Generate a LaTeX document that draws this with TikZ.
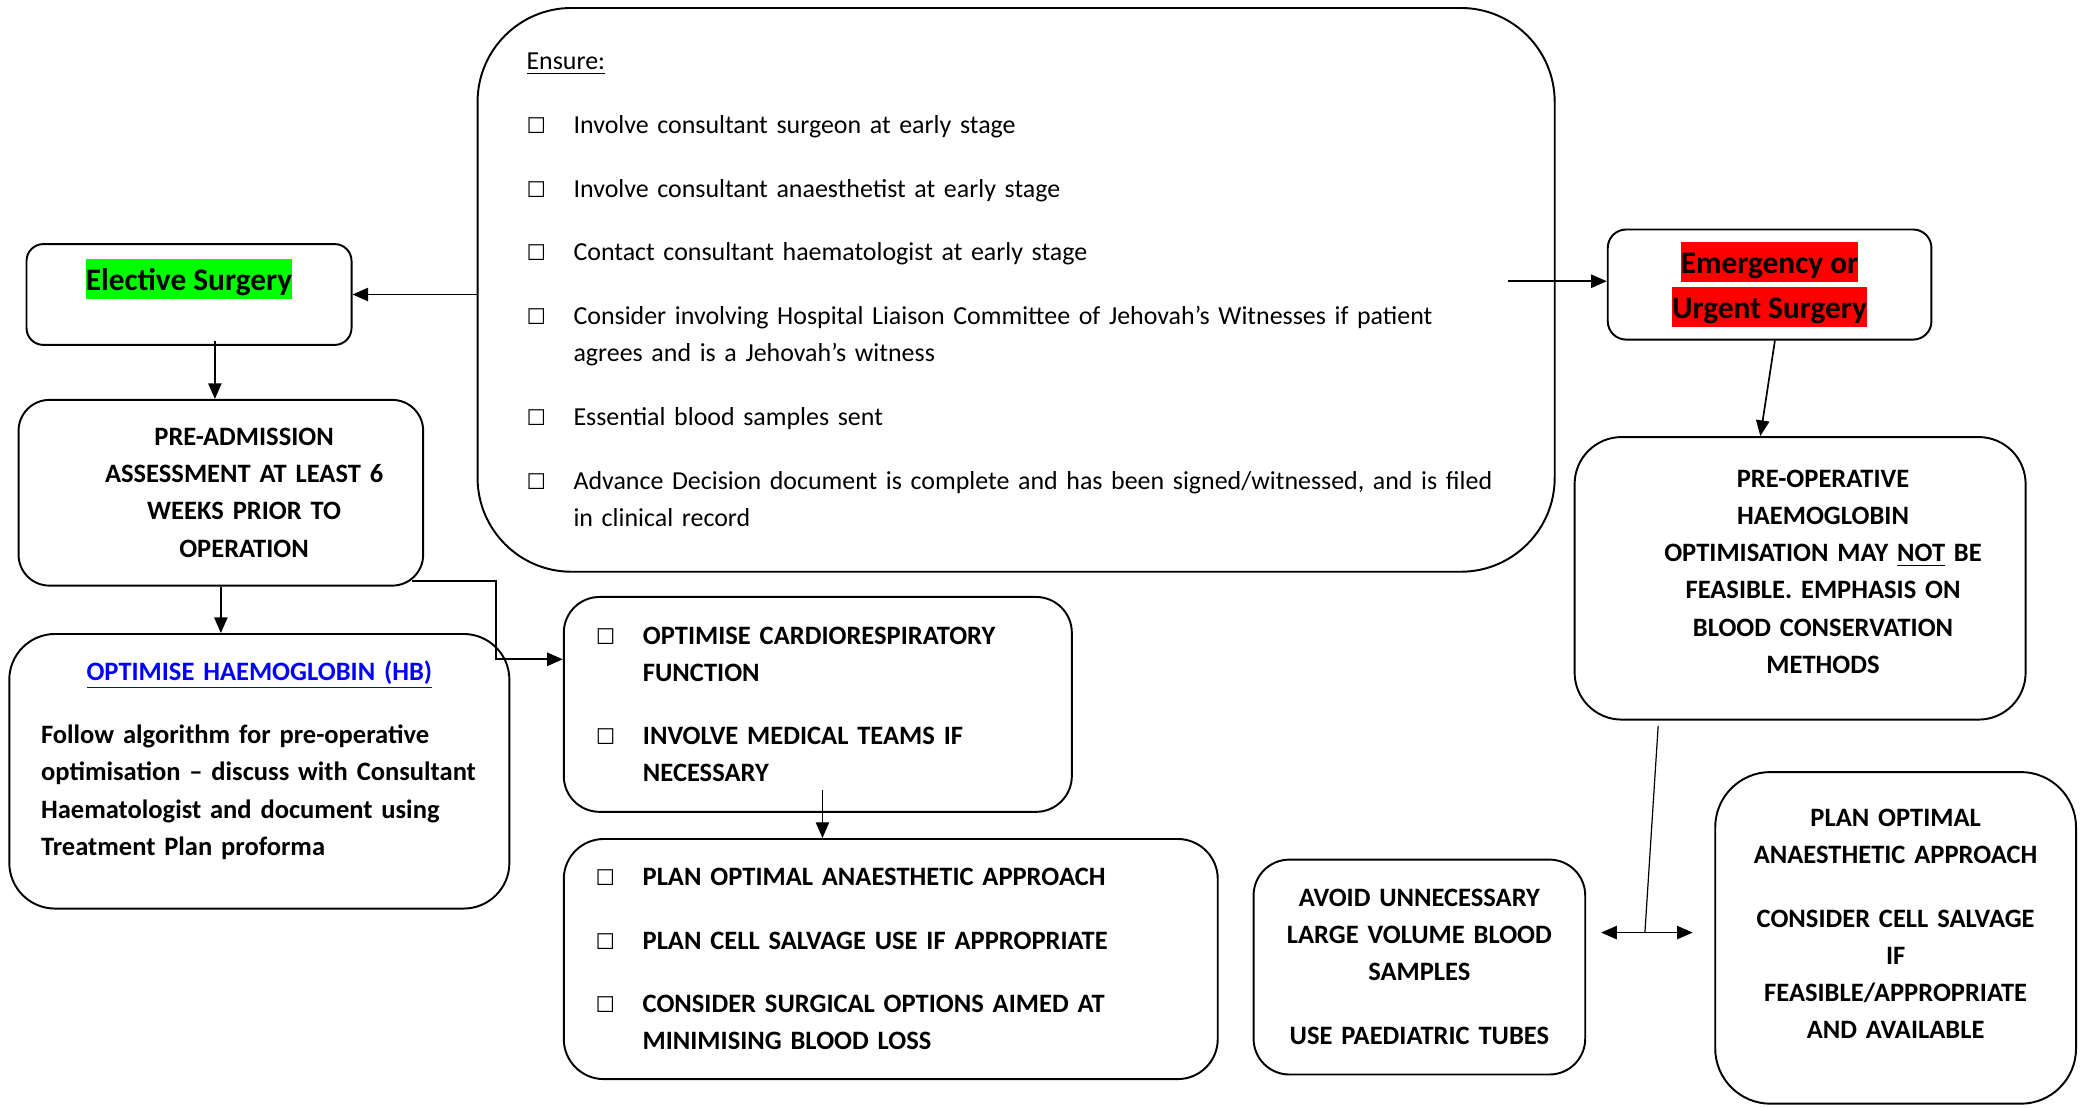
\documentclass[tikz,border=0pt]{standalone}
\usepackage{fontspec}
\setmainfont{Carlito}
\newfontfamily\symfont{DejaVu Sans}
\usetikzlibrary{arrows.meta, positioning, calc}

\definecolor{hlgreen}{RGB}{0,255,0}
\definecolor{hlred}{RGB}{255,0,0}
\definecolor{linkblue}{RGB}{0,0,255}

\setlength{\parindent}{0pt}

\newcommand{\chk}{{\symfont\fontsize{9}{9}\selectfont ☐}}
\newcommand{\chkitem}[1]{\hangindent=19.5pt\hangafter=1\makebox[19.5pt][l]{\chk}#1\par}
\newcommand{\hl}[2]{{\setlength{\fboxsep}{0pt}\colorbox{#1}{\rule[-3.7pt]{0pt}{16.6pt}#2}}}

\begin{document}
\begin{tikzpicture}[x=0.55pt, y=-0.55pt, >={Triangle[length=6.5pt, width=5.5pt]},
  every node/.style={draw, line width=0.8pt, font=\fontsize{11}{15.4}\selectfont},
  rbox/.style n args={3}{minimum width=#1, minimum height=#2, rounded corners=#3},
  listbox/.style={align=left, execute at begin node={\setlength{\parskip}{11pt}}},
  bold/.style={font=\fontsize{11}{15.4}\selectfont\bfseries},
  big/.style={font=\fontsize{13}{18.7}\selectfont\bfseries},
  link/.style={line width=0.7pt}]

\useasboundingbox (0,0) rectangle (1568,835);

% Checklist
\node[rbox={446.6pt}{233.75pt}{38.96pt}, listbox, text width=406pt, font=\fontsize{10.75}{15.4}\selectfont] (ensure) at (766,218.5) {%
  \underline{Ensure:}\par
  \chkitem{Involve consultant surgeon at early stage}
  \chkitem{Involve consultant anaesthetist at early stage}
  \chkitem{Contact consultant haematologist at early stage}
  \chkitem{Consider involving Hospital Liaison Committee of Jehovah’s Witnesses if patient\newline agrees and is a Jehovah’s witness}
  \chkitem{Essential blood samples sent}
  \chkitem{Advance Decision document is complete and has been signed/witnessed, and is filed\newline in clinical record}};

% Elective branch
\node[rbox={134.75pt}{41.8pt}{6.97pt}, big, text depth=16.3pt] (elective) at (142.5,222) {\hl{hlgreen}{Elective Surgery}};
\node[rbox={167.75pt}{77pt}{12.8pt}, bold, text width=150pt, align=center, below=22pt of elective, xshift=13.2pt] (preadm) {\advance\leftskip by 19.25pt\relax PRE-ADMISSION\\ASSESSMENT AT LEAST 6\\WEEKS PRIOR TO\\OPERATION\par};
\node[rbox={207.35pt}{113.85pt}{18.98pt}, bold, listbox, text width=181pt, below=19.25pt of preadm, xshift=15.95pt] (hb) {{\centering\textcolor{linkblue}{\underline{OPTIMISE HAEMOGLOBIN (HB)}}\par}Follow algorithm for pre-operative\newline optimisation – discuss with Consultant\newline Haematologist and document using\newline Treatment Plan proforma\rule[-11.2pt]{0pt}{0pt}};
\node[rbox={210.65pt}{89.1pt}{14.85pt}, bold, listbox, text width=184pt] (cardio) at (616.5,531) {\chkitem{OPTIMISE CARDIORESPIRATORY\newline FUNCTION}\chkitem{INVOLVE MEDICAL TEAMS IF\newline NECESSARY}};
\node[rbox={271.15pt}{99.55pt}{16.6pt}, bold, listbox, text width=244.75pt, below=10.45pt of cardio, xshift=30.25pt] (plan) {\chkitem{PLAN OPTIMAL ANAESTHETIC APPROACH}\chkitem{PLAN CELL SALVAGE USE IF APPROPRIATE}\chkitem{CONSIDER SURGICAL OPTIONS AIMED AT\newline MINIMISING BLOOD LOSS}};

% Emergency branch
\node[rbox={134.2pt}{45.65pt}{7.6pt}, big, align=center] (urgent) at (1334,214.5) {\hl{hlred}{Emergency or}\\\hl{hlred}{Urgent Surgery}};
\node[rbox={187pt}{117.15pt}{19.5pt}, bold, text width=170pt, align=center, text depth=82.5pt, below=39.6pt of urgent, xshift=12.65pt] (preop) {\advance\leftskip by 19pt\relax PRE-OPERATIVE\\HAEMOGLOBIN\\OPTIMISATION MAY \underline{NOT} BE\\FEASIBLE. EMPHASIS ON\\BLOOD CONSERVATION\\METHODS\par};
\node[rbox={137.5pt}{89.1pt}{14.85pt}, bold, text width=128pt, align=center] (avoid) at (1070,729) {AVOID UNNECESSARY\\LARGE VOLUME BLOOD\\SAMPLES\\[11pt]USE PAEDIATRIC TUBES\par};
\node[rbox={149.6pt}{137.5pt}{22.9pt}, bold, text width=140pt, align=center, text depth=99.6pt] (salvage) at (1429,707) {PLAN OPTIMAL\\ANAESTHETIC APPROACH\\[11pt]CONSIDER CELL SALVAGE\\IF\\FEASIBLE/APPROPRIATE\\AND AVAILABLE\par};

% Free ends
\coordinate (es) at (1137,212);
\coordinate (jn) at (1240,703);
\coordinate (dl) at (1207,703);
\coordinate (dr) at (1276,703);

% Arrows
\draw[->, link] (ensure.west |- elective.east) -- (elective.east);
\draw[->, link] (es) -- (es -| urgent.west);
\draw[->, link] ($(elective.south)+(19.5,-4)$) coordinate (e1) -- (e1 |- preadm.north);
\draw[->, link] (preadm.south) -- (preadm.south |- hb.north);
\draw[->, link] ($(preadm.south east)+(-9,-4)$) -- ++(63,0) |- ($(cardio.west)+(0,-34)$);
\draw[->, line width=0.5pt] ($(cardio.south)+(3.5,-17)$) coordinate (c1) -- (c1 |- plan.north);
\draw[->, link] ($(urgent.south)+(4,0)$) -- ($(preop.north)+(-30,0)$);
\draw[line width=0.5pt] ($(preop.south)+(-107,4)$) -- (jn);
\draw[<->, link] (dl) -- (dr);

\end{tikzpicture}
\end{document}
